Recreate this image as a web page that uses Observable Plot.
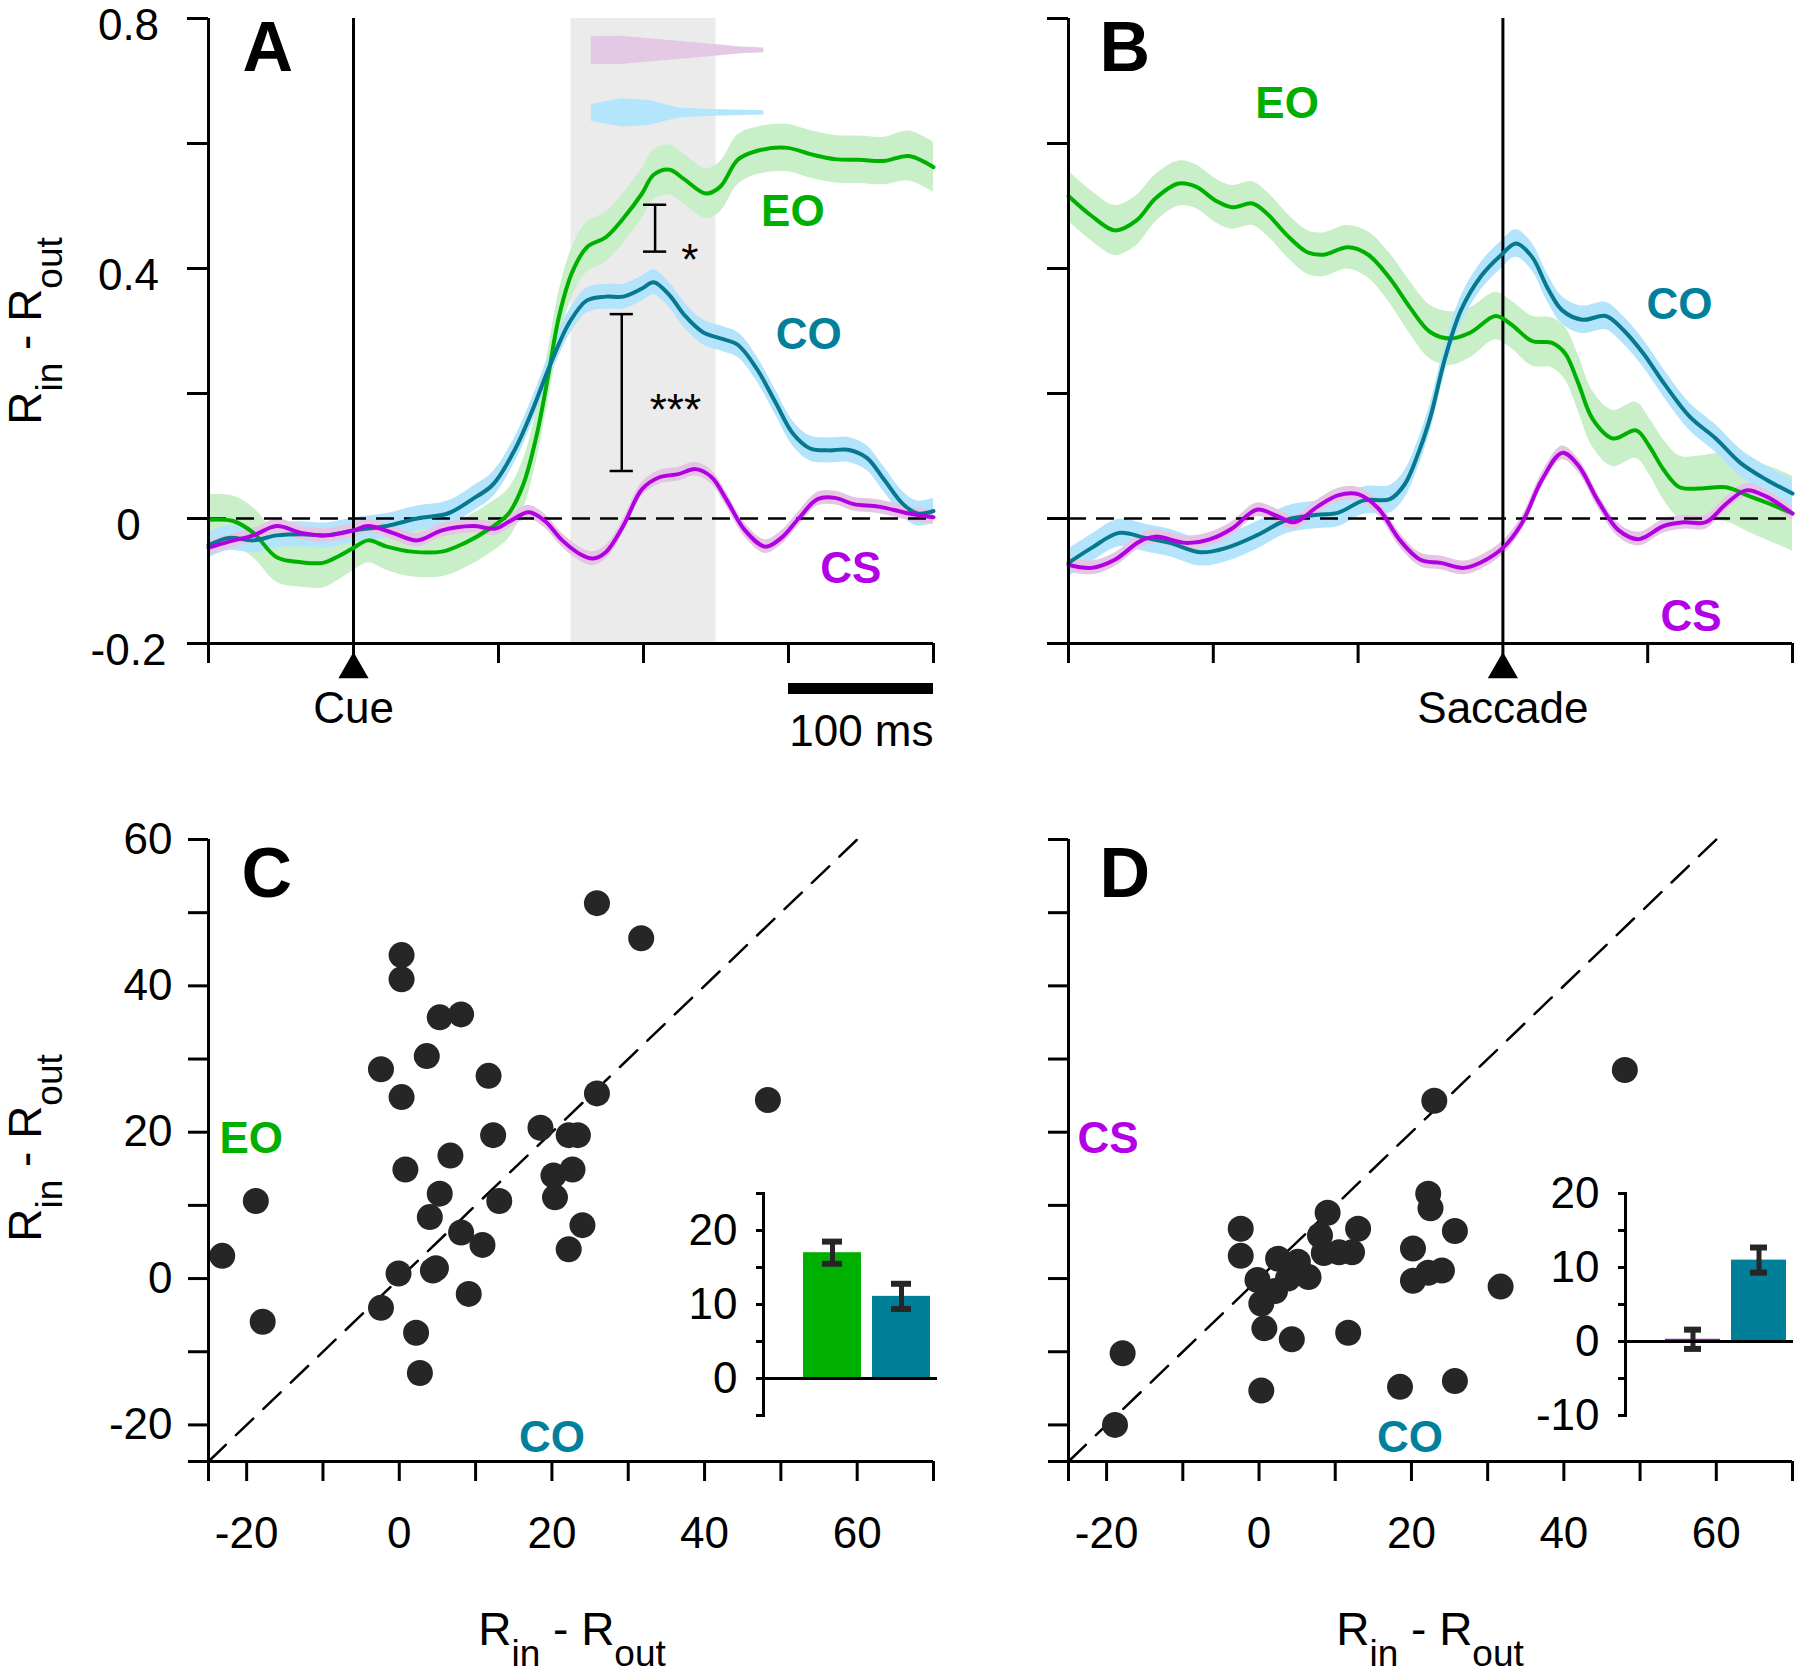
<!DOCTYPE html>
<html>
<head>
<meta charset="utf-8">
<script src="https://cdn.jsdelivr.net/npm/d3@7"></script>
<script src="https://cdn.jsdelivr.net/npm/@observablehq/plot@0.6"></script>
<style>
  html, body { margin: 0; padding: 0; background: #fff; }
  #fig { position: relative; width: 1800px; height: 1674px; overflow: hidden;
         font-family: "Liberation Sans", Arial, Helvetica, sans-serif; color: #000; background: #fff; }
  .axlab { position: absolute; font-size: 46px; line-height: 40px; white-space: nowrap; }
  .axlab .sub { font-size: 37px; position: relative; top: 21px; }
</style>
</head>
<body>
<div id="fig"></div>
<script>
// ---------------- DATA ----------------
// Panel A (aligned to cue, ms) : [time, value, sem]
const eoA = [
  [-100,-0.002,0.04],[-83,-0.004,0.04],[-69,-0.023,0.04],[-53,-0.062,0.04],[-36,-0.07,0.04],
  [-21,-0.071,0.04],[-10,-0.06,0.038],[0,-0.047,0.036],[10,-0.035,0.036],[23,-0.045,0.038],
  [40,-0.053,0.04],[61,-0.053,0.04],[77,-0.039,0.04],[94,-0.016,0.04],[107,0.008,0.04],
  [117,0.054,0.04],[126,0.13,0.04],[134,0.225,0.04],[142,0.326,0.04],[151,0.395,0.04],
  [161,0.434,0.04],[174,0.45,0.04],[186,0.48,0.04],[199,0.52,0.04],[207,0.55,0.04],
  [218,0.558,0.04],[228,0.543,0.04],[243,0.52,0.04],[253,0.531,0.04],[265,0.574,0.04],
  [278,0.588,0.038],[299,0.593,0.038],[315,0.583,0.038],[332,0.575,0.038],[349,0.574,0.038],
  [366,0.572,0.038],[383,0.58,0.04],[400,0.562,0.04]
];
const coA = [
  [-100,-0.043],[-86,-0.031],[-69,-0.035],[-53,-0.027],[-36,-0.025],[-19,-0.027],[0,-0.019],
  [23,-0.012],[44,0],[65,0.008],[82,0.031],[96,0.054],[111,0.109],[123,0.171],[136,0.248],
  [149,0.314],[161,0.349],[174,0.355],[186,0.355],[199,0.368],[207,0.378],[218,0.357],
  [228,0.326],[241,0.298],[255,0.287],[265,0.278],[278,0.24],[291,0.186],[303,0.136],
  [315,0.112],[328,0.109],[341,0.11],[354,0.097],[366,0.062],[379,0.023],[389,0.008],[400,0.012]
];
const csA = [
  [-100,-0.047],[-86,-0.037],[-69,-0.027],[-53,-0.012],[-36,-0.023],[-19,-0.027],[0,-0.019],
  [10,-0.012],[27,-0.023],[44,-0.035],[61,-0.019],[82,-0.012],[98,-0.016],[108,-0.004],
  [121,0.01],[132,-0.004],[144,-0.035],[157,-0.058],[165,-0.064],[174,-0.054],[186,-0.012],
  [199,0.047],[211,0.066],[224,0.071],[236,0.079],[247,0.066],[257,0.031],[270,-0.019],
  [284,-0.045],[295,-0.031],[307,0],[320,0.031],[332,0.033],[345,0.023],[362,0.019],
  [383,0.008],[400,0.002]
];
const coSemA = 0.02, csSemA = 0.011;
const windowA = [150, 250];
// latency distributions drawn at the top of panel A : [time, half-width]
const violinPink = [[164,0.0224],[185,0.0227],[212,0.017],[234,0.0125],[253,0.0085],[267,0.0053],[283,0.0037]];
const violinBlue = [[164,0.0136],[185,0.0227],[204,0.02],[224,0.008],[246,0.0053],[283,0.0035]];
const violinPinkCenter = 0.749, violinBlueCenter = 0.649;
const sigA = [
  {t: 208, lo: 0.427, hi: 0.502, lx: 232, ly: 0.412, label: "*"},
  {t: 185, lo: 0.076, hi: 0.327, lx: 222, ly: 0.172, label: "***"}
];
const labelsA = [
  {t: 303, v: 0.491, text: "EO", cond: "EO"},
  {t: 314, v: 0.293, text: "CO", cond: "CO"},
  {t: 343, v: -0.081, text: "CS", cond: "CS"}
];
const eventA = {t: 0, label: "Cue"};
const scaleBarA = {from: 300, to: 400, label: "100 ms"};

// Panel B (aligned to saccade, ms)
const eoB = [
  [-300,0.516,0.04],[-284,0.484,0.04],[-268,0.461,0.04],[-253,0.477,0.04],[-240,0.512,0.038],
  [-224,0.536,0.036],[-212,0.531,0.035],[-198,0.508,0.035],[-187,0.498,0.035],[-173,0.504,0.035],
  [-163,0.488,0.035],[-149,0.453,0.035],[-135,0.426,0.035],[-124,0.422,0.035],[-107,0.434,0.035],
  [-93,0.422,0.037],[-78,0.384,0.04],[-64,0.337,0.042],[-50,0.298,0.043],[-36,0.288,0.043],
  [-22,0.298,0.04],[-5,0.324,0.038],[6,0.31,0.038],[20,0.284,0.04],[34,0.281,0.04],
  [43,0.264,0.042],[52,0.217,0.045],[62,0.159,0.045],[76,0.128,0.045],[92,0.141,0.045],
  [101,0.116,0.045],[111,0.078,0.048],[122,0.05,0.05],[136,0.048,0.052],[154,0.05,0.055],
  [171,0.035,0.058],[189,0.019,0.06],[200,0.008,0.06]
];
const coB = [
  [-300,-0.071],[-284,-0.047],[-265,-0.023],[-247,-0.031],[-230,-0.039],[-209,-0.054],
  [-191,-0.047],[-170,-0.027],[-149,-0.002],[-128,0.006],[-114,0.009],[-96,0.029],[-78,0.031],
  [-68,0.054],[-59,0.101],[-50,0.163],[-40,0.256],[-29,0.333],[-15,0.388],[-1,0.422],[9,0.44],
  [20,0.419],[31,0.368],[41,0.333],[55,0.318],[71,0.324],[83,0.302],[97,0.264],[111,0.217],
  [129,0.163],[147,0.128],[164,0.089],[182,0.062],[200,0.04]
];
const csB = [
  [-300,-0.074],[-284,-0.079],[-268,-0.066],[-251,-0.037],[-240,-0.029],[-219,-0.039],
  [-202,-0.033],[-187,-0.016],[-170,0.014],[-156,0.004],[-144,-0.006],[-128,0.019],[-114,0.037],
  [-100,0.039],[-86,0.016],[-71,-0.035],[-57,-0.066],[-43,-0.071],[-27,-0.079],[-15,-0.07],
  [0,-0.047],[13,-0.008],[27,0.062],[41,0.105],[52,0.085],[66,0.027],[80,-0.019],[94,-0.033],
  [111,-0.012],[125,-0.006],[140,-0.006],[154,0.023],[168,0.045],[182,0.035],[200,0.008]
];
const coSemB = 0.022, csSemB = 0.011;
const labelsB = [
  {t: -149, v: 0.663, text: "EO", cond: "EO"},
  {t: 122, v: 0.341, text: "CO", cond: "CO"},
  {t: 130, v: -0.157, text: "CS", cond: "CS"}
];
const eventB = {t: 0, label: "Saccade"};

const xDomA = [-100, 400], xTicksA = [-100, 0, 100, 200, 300, 400];
const xDomB = [-300, 200], xTicksB = [-300, -200, -100, 0, 100, 200];
const yDomTS = [-0.2, 0.8];
const yTicksTS = [-0.2, 0, 0.2, 0.4, 0.6, 0.8];
const yTickTextTS = ["-0.2", "0", "", "0.4", "", "0.8"];

// Panels C and D : [CO (x), EO or CS (y)]
const ptsC = [
  [-23.2,3.1],[-18.8,10.6],[-17.9,-5.9],[-2.4,28.6],[-2.4,-4.0],[0.3,44.2],[0.3,40.9],[0.3,24.8],
  [0.8,14.9],[-0.1,0.7],[2.2,-7.4],[2.7,-12.9],[3.6,30.4],[4.0,8.4],[4.4,1.1],[4.8,1.4],
  [5.3,11.6],[5.3,35.7],[6.7,16.8],[8.1,36.1],[8.1,6.3],[9.1,-2.1],[10.9,4.6],[11.7,27.7],
  [12.3,19.6],[13.1,10.6],[18.5,20.6],[20.2,14.1],[20.4,11.1],[22.2,19.6],[23.4,19.6],
  [22.7,14.9],[22.2,4.0],[24.0,7.3],[25.9,25.3],[25.9,51.3],[31.7,46.5],[48.3,24.4]
];
const ptsD = [
  [-18.9,-20.0],[-17.9,-10.2],[-2.4,6.8],[-2.4,3.1],[-0.2,-0.2],[0.3,-3.4],[0.7,-6.8],
  [0.3,-15.3],[2.5,2.7],[2.1,-1.7],[3.8,0],[4.3,-8.3],[5.1,2.3],[6.5,0.2],[8.0,5.9],[9.0,9.0],
  [8.5,3.5],[10.5,3.6],[12.2,3.6],[13.0,6.8],[11.7,-7.4],[18.5,-14.8],[20.2,4.1],[20.2,-0.3],
  [22.2,11.6],[22.5,9.6],[22.2,0.8],[24.0,1.1],[23.0,24.3],[25.7,6.5],[25.7,-14.0],[31.7,-1.1],
  [48.0,28.5]
];
const labelsC = [{x: -19.4, y: 19.1, text: "EO", cond: "EO"}, {x: 20, y: -21.8, text: "CO", cond: "CO"}];
const labelsD = [{x: -19.8, y: 19.1, text: "CS", cond: "CS"}, {x: 19.8, y: -21.8, text: "CO", cond: "CO"}];
const xDomSc = [-25, 70], yDomSc = [-25, 60];
const xTicksSc = [-25, -20, -10, 0, 10, 20, 30, 40, 50, 60, 70];
const xTickTextSc = ["", "-20", "", "0", "", "20", "", "40", "", "60", ""];
const yTicksSc = [-25, -20, -10, 0, 10, 20, 30, 40, 50, 60];
const yTickTextSc = ["", "-20", "", "0", "", "20", "", "40", "", "60"];
const diagSc = [-25, 60];

// Insets (mean ± sem)
const barsC = [{cond: "EO", mean: 17.0, err: 1.5}, {cond: "CO", mean: 11.1, err: 1.7}];
const barsD = [{cond: "CS", mean: 0.3, err: 1.3}, {cond: "CO", mean: 11.0, err: 1.7}];
const yDomInsetC = [-5, 25], yTicksInsetC = [-5, 0, 5, 10, 15, 20, 25];
const yTickTextInsetC = ["", "0", "", "10", "", "20", ""];
const yDomInsetD = [-10, 20], yTicksInsetD = [-10, -5, 0, 5, 10, 15, 20];
const yTickTextInsetD = ["-10", "", "0", "", "10", "", "20"];

// ---------------- STYLE ----------------
const FONT = '"Liberation Sans", Arial, Helvetica, sans-serif';
const FS = 44;
const lineColor = {EO: "#00b000", CO: "#06798f", CS: "#b200e2"};
const bandColor = {EO: "#c9efc9", CO: "#b3e4fb", CS: "#e4c6e4"};
const labelColor = {EO: "#00b000", CO: "#00809a", CS: "#b300e6"};
const barColor = {EO: "#00b000", CO: "#007f99", CS: "#b000e0"};
const baseStyle = {fontFamily: FONT, fontSize: FS + "px", background: "transparent", overflow: "visible", color: "black"};
const curve = "catmull-rom";
const LW = 4;
const fig = document.getElementById("fig");
function place(el, left, top) {
  el.style.position = "absolute";
  el.style.left = left + "px";
  el.style.top = top + "px";
  el.style.maxWidth = "none";
  fig.appendChild(el);
}
const tickMap = (ticks, texts) => { const m = new Map(ticks.map((t, i) => [t, texts[i]])); return d => m.get(d) ?? ""; };

function tsPlot(o) {
  return Plot.plot({
    width: o.width, height: 780, marginLeft: o.marginLeft, marginRight: o.marginRight, marginTop: 18, marginBottom: 137,
    style: baseStyle,
    x: {domain: o.xDom}, y: {domain: yDomTS},
    marks: [
      ...(o.pre || []),
      Plot.areaY(o.eo, {x: d => d[0], y1: d => d[1] - d[2], y2: d => d[1] + d[2], fill: bandColor.EO, curve}),
      Plot.areaY(o.co, {x: d => d[0], y1: d => d[1] - o.coSem, y2: d => d[1] + o.coSem, fill: bandColor.CO, curve}),
      Plot.areaY(o.cs, {x: d => d[0], y1: d => d[1] - o.csSem, y2: d => d[1] + o.csSem, fill: bandColor.CS, curve}),
      Plot.ruleY([0], {strokeDasharray: "18,10", strokeWidth: 2.5}),
      Plot.ruleX([o.event.t], {strokeWidth: 3}),
      Plot.line(o.eo, {x: d => d[0], y: d => d[1], stroke: lineColor.EO, strokeWidth: LW, curve}),
      Plot.line(o.co, {x: d => d[0], y: d => d[1], stroke: lineColor.CO, strokeWidth: LW, curve}),
      Plot.line(o.cs, {x: d => d[0], y: d => d[1], stroke: lineColor.CS, strokeWidth: LW, curve}),
      ...o.labels.map(l => Plot.text([l], {x: "t", y: "v", text: "text", fill: labelColor[l.cond], fontWeight: "bold", fontSize: FS, lineAnchor: "middle"})),
      ...(o.post || []),
      // tick marks
      Plot.axisY(yTicksTS, {tickSize: 21, strokeWidth: 3, tickFormat: () => "", label: null}),
      // tick labels (centred, slightly below their ticks as in the original)
      ...(o.yLabels ? [Plot.axisY(yTicksTS, {tickSize: 0, tickPadding: 80, textAnchor: "middle", dy: 7,
        tickFormat: tickMap(yTicksTS, yTickTextTS), label: null, fontSize: FS})] : []),
      Plot.axisX(o.xTicks, {tickSize: 20, strokeWidth: 3, tickFormat: () => "", label: null}),
      Plot.ruleX([o.xDom[0]], {strokeWidth: 3}),
      Plot.ruleY([yDomTS[0]], {strokeWidth: 3}),
      Plot.dot([o.event], {x: "t", y: () => yDomTS[0], symbol: "triangle", r: 11.2, fill: "black", dy: 26}),
      Plot.text([o.event], {x: "t", y: () => yDomTS[0], text: "label", dy: 65, lineAnchor: "middle", fontSize: FS}),
      Plot.text([o.letter], {text: d => d, frameAnchor: "top-left", textAnchor: "start", lineAnchor: "top", dx: o.letterDx, dy: 3, fontSize: 70, fontWeight: "bold"})
    ]
  });
}

const plotA = tsPlot({
  width: 960, marginLeft: 208, marginRight: 27, xDom: xDomA, xTicks: xTicksA,
  eo: eoA, co: coA, cs: csA, coSem: coSemA, csSem: csSemA, labels: labelsA, event: eventA,
  yLabels: true, letter: "A", letterDx: 34,
  pre: [
    Plot.rect([windowA], {x1: d => d[0], x2: d => d[1], y1: () => yDomTS[0], y2: () => yDomTS[1], fill: "#ebebeb"}),
    Plot.areaY(violinPink, {x: d => d[0], y1: d => violinPinkCenter - d[1], y2: d => violinPinkCenter + d[1], fill: "#e4c9e4"}),
    Plot.areaY(violinBlue, {x: d => d[0], y1: d => violinBlueCenter - d[1], y2: d => violinBlueCenter + d[1], fill: "#b3e5fc"})
  ],
  post: [
    Plot.ruleX(sigA, {x: "t", y1: "lo", y2: "hi", strokeWidth: 2.5}),
    Plot.ruleY(sigA, {y: "lo", x1: d => d.t - 8, x2: d => d.t + 8, strokeWidth: 2.5}),
    Plot.ruleY(sigA, {y: "hi", x1: d => d.t - 8, x2: d => d.t + 8, strokeWidth: 2.5}),
    Plot.text(sigA, {x: "lx", y: "ly", text: "label", fontSize: FS, lineAnchor: "middle"}),
    Plot.ruleY([scaleBarA], {y: () => yDomTS[0], x1: "from", x2: "to", dy: 45, strokeWidth: 11}),
    Plot.text([scaleBarA], {x: "to", y: () => yDomTS[0], text: "label", textAnchor: "end", dy: 88, lineAnchor: "middle", fontSize: FS})
  ]
});
place(plotA, 0, 0);

const plotB = tsPlot({
  width: 840, marginLeft: 108, marginRight: 8, xDom: xDomB, xTicks: xTicksB,
  eo: eoB, co: coB, cs: csB, coSem: coSemB, csSem: csSemB, labels: labelsB, event: eventB,
  yLabels: false, letter: "B", letterDx: 31
});
place(plotB, 960, 0);

function scPlot(o) {
  return Plot.plot({
    width: o.width, height: 874, marginLeft: o.marginLeft, marginRight: o.marginRight, marginTop: 39, marginBottom: 213,
    style: baseStyle,
    x: {domain: xDomSc}, y: {domain: yDomSc},
    marks: [
      Plot.line(diagSc, {x: d => d, y: d => d, strokeDasharray: "24,14", strokeWidth: 2.5}),
      Plot.dot(o.pts, {x: d => d[0], y: d => d[1], r: 13, fill: "#262626"}),
      ...o.labels.map(l => Plot.text([l], {x: "x", y: "y", text: "text", fill: labelColor[l.cond], fontWeight: "bold", fontSize: FS, lineAnchor: "middle"})),
      Plot.axisY(yTicksSc, {tickSize: 20, tickPadding: 16, strokeWidth: 3, label: null, fontSize: FS,
        tickFormat: o.yLabels ? tickMap(yTicksSc, yTickTextSc) : () => ""}),
      Plot.axisX(xTicksSc, {tickSize: 20, tickPadding: 35, strokeWidth: 3, label: null, fontSize: FS, tickFormat: tickMap(xTicksSc, xTickTextSc)}),
      Plot.ruleX([xDomSc[0]], {strokeWidth: 3}),
      Plot.ruleY([yDomSc[0]], {strokeWidth: 3}),
      Plot.text([o.letter], {text: d => d, frameAnchor: "top-left", textAnchor: "start", lineAnchor: "top", dx: o.letterDx, dy: 8, fontSize: 70, fontWeight: "bold"})
    ]
  });
}
place(scPlot({width: 960, marginLeft: 208, marginRight: 27, pts: ptsC, labels: labelsC, yLabels: true, letter: "C", letterDx: 33}), 0, 800);
place(scPlot({width: 840, marginLeft: 108, marginRight: 8, pts: ptsD, labels: labelsD, yLabels: false, letter: "D", letterDx: 31}), 960, 800);

function insetPlot(o) {
  return Plot.plot({
    width: 260, height: 260, marginLeft: o.marginLeft, marginRight: o.marginRight, marginTop: 23, marginBottom: 15,
    style: baseStyle,
    x: {type: "band", domain: o.bars.map(b => b.cond), paddingInner: 0.16, paddingOuter: 0.34, align: 0.86, axis: null},
    y: {domain: o.yDom},
    marks: [
      ...o.bars.map(b => Plot.barY([b], {x: "cond", y: "mean", fill: barColor[b.cond]})),
      Plot.ruleX(o.bars, {x: "cond", y1: d => d.mean - d.err, y2: d => d.mean + d.err, stroke: "#262626", strokeWidth: 5}),
      Plot.tickY(o.bars, {x: "cond", y: d => d.mean - d.err, stroke: "#262626", strokeWidth: 6, insetLeft: 19, insetRight: 19}),
      Plot.tickY(o.bars, {x: "cond", y: d => d.mean + d.err, stroke: "#262626", strokeWidth: 6, insetLeft: 19, insetRight: 19}),
      Plot.ruleY([0], {strokeWidth: 3}),
      Plot.frame({anchor: "left", strokeWidth: 3}),
      Plot.axisY(o.ticks, {tickSize: 7, tickPadding: 19, strokeWidth: 3, label: null, fontSize: FS, tickFormat: tickMap(o.ticks, o.tickText)})
    ]
  });
}
place(insetPlot({bars: barsC, yDom: yDomInsetC, ticks: yTicksInsetC, tickText: yTickTextInsetC, marginLeft: 83, marginRight: 3}), 680, 1170);
place(insetPlot({bars: barsD, yDom: yDomInsetD, ticks: yTicksInsetD, tickText: yTickTextInsetD, marginLeft: 85, marginRight: 7}), 1540, 1170);

// axis titles with subscripts
function axisTitle(cx, cy, rotate) {
  const d = document.createElement("div");
  d.className = "axlab";
  d.innerHTML = 'R<span class="sub">in</span> - R<span class="sub">out</span>';
  d.style.left = cx + "px";
  d.style.top = cy + "px";
  d.style.transform = rotate ? "translate(-50%,-50%) rotate(-90deg)" : "translate(-50%,0)";
  fig.appendChild(d);
}
axisTitle(27, 331, true);
axisTitle(27, 1148, true);
axisTitle(572, 1609, false);
axisTitle(1430, 1609, false);
</script>
</body>
</html>
